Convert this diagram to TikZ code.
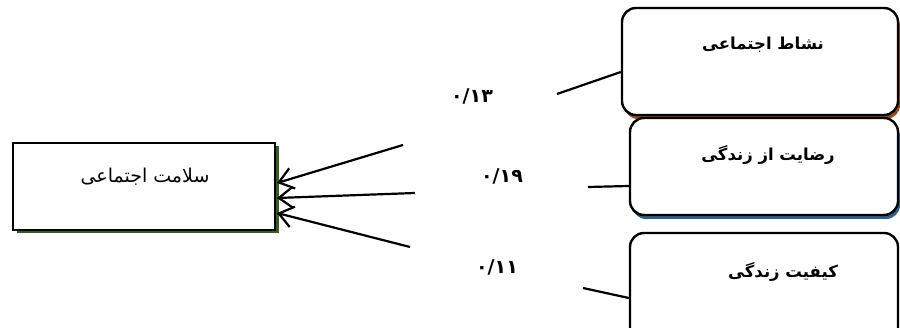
\documentclass[tikz,border=0pt]{standalone}
\usepackage{fontspec}
\usetikzlibrary{arrows.meta}
\TeXXeTstate=1
\newfontfamily\arabicfont[Script=Arabic]{DejaVu Sans}
\definecolor{shgreen}{HTML}{3B5A22}
\definecolor{shbrown}{HTML}{9A4A12}
\definecolor{shblue}{HTML}{2D5F8C}
\begin{document}
\begin{tikzpicture}[x=1pt,y=-1pt,
  rbox/.style={draw=black, line width=2.4pt, fill=white, rounded corners=14pt, inner sep=0pt},
  sbox/.style={draw=black, line width=2.4pt, fill=white, inner sep=0pt},
  rshadow/.style={fill=#1, rounded corners=14pt, inner sep=0pt},
  sshadow/.style={fill=#1, inner sep=0pt},
  lbl/.style={font=\arabicfont\bfseries\fontsize{16.5}{18}\selectfont, inner sep=0pt},
  plain/.style={font=\arabicfont\fontsize{19}{20}\selectfont, inner sep=0pt},
  num/.style={font=\arabicfont\bfseries\fontsize{19}{20}\selectfont, inner sep=0pt},
  link/.style={line width=2.2pt},
  arr/.style={line width=2.2pt, -{Straight Barb[length=14pt,width=21pt,line width=2.2pt]}}
]
\useasboundingbox (0,0) rectangle (900,328);
\begin{scope}
\clip (0,0) rectangle (900,328);
% left box
\node[sshadow=shgreen, minimum width=262pt, minimum height=87pt] (lbs) at (147.5,190) {};
\node[sbox, minimum width=262pt, minimum height=87pt] (lb) at (144,186.5) {};
\node[plain] (lbt) at (145,177) {\beginR سلامت اجتماعی\endR};
% box 1
\node[rshadow=shbrown, minimum width=276pt, minimum height=107pt] (b1s) at (762,65.5) {};
\node[rbox, minimum width=276pt, minimum height=107pt] (b1) at (760,61.5) {};
\node[lbl] (b1t) at (763,45) {\beginR نشاط اجتماعی\endR};
% box 2
\node[rshadow=shblue, minimum width=268pt, minimum height=97pt] (b2s) at (766,170.5) {};
\node[rbox, minimum width=268pt, minimum height=97pt] (b2) at (764,166.5) {};
\node[lbl] (b2t) at (768,155) {\beginR رضایت از زندگی\endR};
% box 3
\node[rbox, minimum width=268pt, minimum height=112pt] (b3) at (764,289) {};
\node[lbl] (b3t) at (783,272) {\beginR کیفیت زندگی\endR};
\end{scope}
% numbers
\node[num] (n1) at (472,96) {۰/۱۳};
\node[num] (n2) at (502,176) {۰/۱۹};
\node[num] (n3) at (497,267) {۰/۱۱};
% box links
\coordinate (e1) at (557,94);
\coordinate (e2) at (588,187);
\coordinate (e3) at (583,288);
\draw[link] (b1.west |- 0,72) -- (e1);
\draw[link] (b2.west |- 0,186) -- (e2);
\draw[link] (b3.west |- 0,298) -- (e3);
% arrows
\coordinate (a1) at (403,145);
\coordinate (a2) at (415,193);
\coordinate (a3) at (410,247);
\coordinate (t1) at (277,183);
\coordinate (t2) at (277,198);
\coordinate (t3) at (277,213);
\draw[arr] (a1) -- (t1);
\draw[arr] (a2) -- (t2);
\draw[arr] (a3) -- (t3);
\end{tikzpicture}
\end{document}
